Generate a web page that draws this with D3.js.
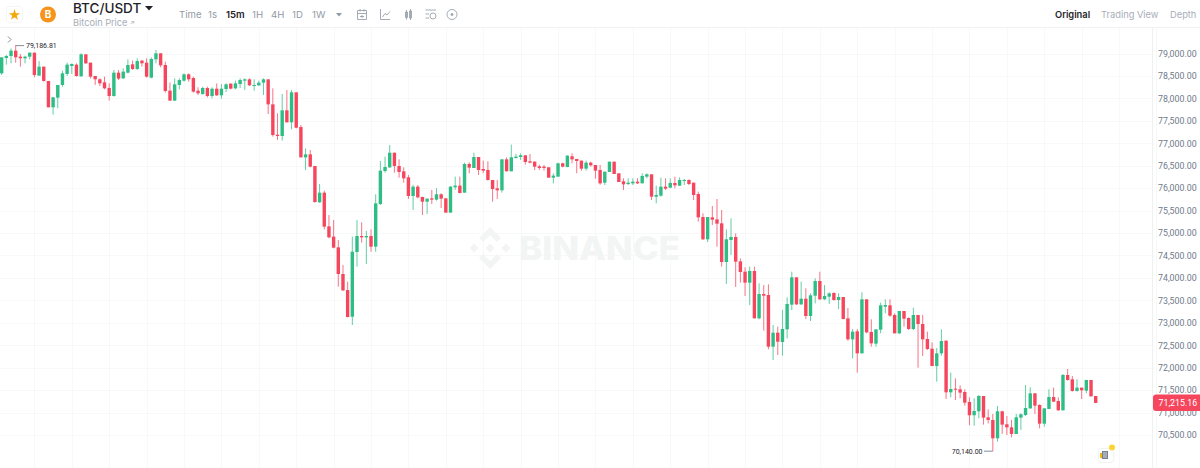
<!DOCTYPE html>
<html lang="en">
    <head>
        <meta charset="utf-8">
        <title>BTC/USDT 15m</title>
        <script type="text/javascript" src="https://cdn.jsdelivr.net/npm/d3@7"></script>
        <style type="text/css">
            html, body { margin: 0; padding: 0; background: #fff; overflow: hidden; }
            text { font-family: Inter, "Noto Sans", sans-serif; }
        </style>
    </head>
    <body>
        <script type="text/javascript">

            //Candle values, left to right
            var opens = [
                78558,78900,78945,79064,78930,78893,78930,79019,78507,78707,
                78388,77801,78016,78299,78544,78722,78752,78492,78982,78796,
                78499,78425,78358,78232,78053,78573,78447,78573,78759,78655,
                78841,78796,78462,78870,79004,78744,78172,77950,78299,78395,
                78536,78454,78172,78097,78231,78053,78216,78068,78209,78328,
                78224,78320,78395,78424,78283,78291,78350,78424,77867,77191,
                77162,77734,77466,78135,77362,76686,76753,76493,75684,75899,
                75149,74919,74681,74087,73730,73136,74577,74934,74904,74934,
                74696,75646,76382,76463,76790,76493,76375,76241,75825,76033,
                75803,75699,75773,75744,75863,75773,75454,76019,76056,75900,
                76538,76449,76694,76427,76405,76182,75996,75952,76642,76375,
                76672,76694,76732,76598,76590,76486,76479,76464,76234,76256,
                76553,76472,76709,76650,76613,76434,76568,76516,76404,76122,
                76360,76590,76330,76152,76092,76107,76144,76107,76256,76308,
                75810,75833,76033,76011,76115,76055,76159,76182,76122,75870,
                75357,74860,75350,75305,75216,74355,74845,74912,74369,74139,
                73894,74154,73099,73642,73619,72468,72780,72572,72854,73404,
                74013,73411,73537,73151,73604,73931,73523,73582,73664,73508,
                73575,73099,72631,72810,72319,73523,72795,72535,72847,73359,
                73389,73174,72765,73263,73107,72862,73174,72973,72639,72423,
                72037,72319,72602,71451,71533,71518,71458,71236,70939,71028,
                71369,70894,70835,70426,71028,70738,70671,70523,70887,70946,
                71094,71429,71169,70753,71080,71347,71258,71050,71837,71741,
                71481,71555,71488,71726,71369
            ];
            var highs = [
                78915,78967,79115,79186.81,78989,78952,79019,79019,78833,78707,
                78388,78024,78299,78618,78796,78781,78781,79004,78982,78796,
                78499,78447,78484,78336,78633,78633,78670,78870,78841,78893,
                78856,78893,78915,79078,79004,78818,78351,78447,78447,78558,
                78558,78484,78247,78261,78261,78246,78335,78320,78335,78335,
                78395,78447,78447,78447,78424,78395,78447,78424,78224,77667,
                78097,78187,78187,78135,77407,76887,76850,76493,76092,75944,
                75401,75290,74844,74287,73916,74919,75290,75238,75045,75082,
                75862,76605,76701,76961,76790,76642,76464,76293,76071,76071,
                75811,75773,75959,75996,75885,75773,76048,76256,76256,76568,
                76576,76791,76694,76613,76598,76182,76182,76642,76687,76969,
                76761,76776,76732,76761,76598,76524,76516,76464,76331,76568,
                76568,76732,76776,76650,76613,76613,76590,76516,76516,76367,
                76590,76590,76330,76219,76219,76219,76219,76330,76330,76308,
                76055,76234,76219,76219,76256,76241,76204,76196,76122,75922,
                75439,75357,75602,75758,75513,75082,75327,74993,74436,74236,
                74251,74251,73879,73842,73857,72951,72914,73285,73567,74139,
                74013,73916,73768,73656,73991,74139,73842,73679,73679,73656,
                73575,73329,72862,72862,73679,73523,73077,72854,73448,73523,
                73523,73211,73263,73263,73122,73337,73174,73174,72802,72564,
                72438,72854,72602,71889,71763,71607,71518,71340,71317,71392,
                71369,71072,70968,71146,71043,70924,70835,70968,70983,71614,
                71562,71429,71184,71094,71518,71555,71340,71859,71971,71815,
                71741,71555,71726,71726,71369
            ];
            var lows = [
                78521,78752,78781,78796,78707,78781,78870,78469,78507,78373,
                77801,77638,77779,78261,78499,78544,78484,78484,78766,78447,
                78299,78276,78202,77950,78039,78410,78432,78558,78633,78633,
                78707,78462,78447,78781,78692,78128,77942,77942,78202,78373,
                78373,78128,78076,78083,78023,78001,78053,77993,78142,78201,
                78201,78231,78187,78276,78172,78276,78075,77652,77147,77073,
                77058,77466,77310,77332,76686,76404,76463,75676,75676,75082,
                74882,74659,73805,73708,73121,72951,74250,74785,74310,74584,
                74584,75624,76345,76449,76345,76233,76123,75759,75513,75773,
                75402,75424,75647,75721,75558,75454,75454,75959,75885,75900,
                76331,76449,76293,76331,76167,75699,75759,75900,76375,76375,
                76657,76628,76524,76553,76405,76405,76390,76226,76108,76256,
                76464,76464,76553,76331,76390,76390,76479,76212,76078,76070,
                76360,76315,76137,75959,76070,76070,76092,76107,76219,75736,
                75662,75810,75959,75996,75996,76048,76070,76070,75736,75253,
                74845,74800,75179,74696,74251,73864,74510,73798,73894,73597,
                73396,73099,73077,72825,72409,72171,72282,72267,72654,73285,
                73396,73396,73084,73040,73433,73508,73508,73419,73493,73307,
                73077,72602,72208,71889,72319,72765,72468,72468,72765,73211,
                73136,72765,72750,72914,72839,72839,72000,72260,72394,72037,
                71688,72267,71302,71340,71280,71317,71154,70716,70708,70872,
                70731,70760,70140,70352,70523,70500,70448,70523,70612,70924,
                71080,70968,70649,70686,71080,71236,71043,71043,71711,71466,
                71466,71302,71429,71354,71208
            ];
            var closes = [
                78915,78945,79064,78915,78893,78930,79019,78521,78707,78388,
                77801,78024,78299,78558,78752,78766,78499,78982,78781,78484,
                78425,78336,78224,78053,78573,78440,78596,78744,78655,78833,
                78781,78484,78878,79004,78737,78165,77950,78313,78410,78536,
                78425,78150,78113,78231,78053,78216,78068,78216,78313,78216,
                78335,78409,78424,78291,78298,78350,78424,77867,77184,77162,
                77734,77466,78135,77347,76686,76753,76478,75691,75899,75142,
                74904,74674,74087,73723,73129,74584,74934,74904,74934,74696,
                75661,76389,76471,76790,76493,76360,76219,75825,76033,75796,
                75699,75766,75744,75863,75766,75454,76033,76056,75892,76538,
                76457,76694,76405,76390,76182,75981,75952,76642,76375,76687,
                76702,76732,76583,76568,76479,76449,76449,76234,76279,76553,
                76479,76724,76642,76605,76434,76568,76509,76390,76107,76367,
                76590,76315,76137,76085,76122,76144,76107,76271,76308,75810,
                75847,76033,75988,76115,76063,76182,76182,76092,75847,75350,
                74860,75357,75298,75209,74355,74860,74912,74362,74132,73894,
                74154,73099,73642,73604,72468,72780,72579,72862,73419,74013,
                73411,73537,73151,73612,73931,73523,73597,73656,73508,73575,
                73084,72631,72802,72319,73523,72787,72542,72854,73389,73396,
                73159,72765,73263,73092,72862,73174,72973,72631,72416,72037,
                72319,72594,71451,71525,71510,71444,71221,70939,71035,71369,
                70887,70835,70426,71028,70731,70671,70523,70894,70961,71102,
                71429,71154,70753,71094,71347,71243,71050,71837,71726,71481,
                71555,71496,71726,71362,71215.16
            ];

            //Right axis labels
            var priceTicks = [70500,71000,71500,72000,72500,73000,73500,74000,74500,75000,75500,76000,76500,77000,77500,78000,78500,79000];
            var lastPrice = 71215.16;
            var highPrice = 79186.81;
            var lowPrice = 70140;
            var intervals = ["Time","1s","15m","1H","4H","1D","1W"];
            var views = ["Original","Trading View","Depth"];

            //Width and height
            var w = 1200;
            var h = 468;

            var xScale = d3.scaleLinear().domain([0, 234]).range([1.67, 1095.7]);
            var yScale = d3.scaleLinear().domain([70500, 79000]).range([435, 53.5]);
            var priceFormat = d3.format(",.2f");

            var up = "#2ebd85";
            var down = "#f6465d";
            var grid = "#f7f8f8";
            var muted = "#929aa5";
            var dark = "#1e2329";
            var bodyW = 3.4;
            var numberFont = "Roboto, sans-serif";

            var svg = d3.select("body")
                        .append("svg")
                        .attr("width", w)
                        .attr("height", h)
                        .style("display", "block");

            //Grid
            var gridLayer = svg.append("g");
            gridLayer.selectAll("line.h")
                .data(priceTicks)
                .enter()
                .append("line")
                .attr("class", "h")
                .attr("x1", 0)
                .attr("x2", 1153)
                .attr("y1", function(d) { return Math.round(yScale(d)) + 0.5; })
                .attr("y2", function(d) { return Math.round(yScale(d)) + 0.5; })
                .style("stroke", grid);

            //one vertical line every 8 candles, starting on candle 7
            var gridCandles = d3.range(7, 250, 8);
            gridLayer.selectAll("line.v")
                .data(gridCandles)
                .enter()
                .append("line")
                .attr("class", "v")
                .attr("x1", function(d) { return Math.round(xScale(d)) + 0.5; })
                .attr("x2", function(d) { return Math.round(xScale(d)) + 0.5; })
                .attr("y1", 28)
                .attr("y2", h)
                .style("stroke", grid);

            //Watermark
            var mark = svg.append("g").attr("fill", "#f3f4f4");
            var logo = mark.append("g").attr("transform", "translate(490,248)");
            logo.append("path").attr("d", "M0 -21L11 -10L7 -6L0 -13L-7 -6L-11 -10Z");
            logo.append("path").attr("d", "M0 21L11 10L7 6L0 13L-7 6L-11 10Z");
            logo.append("path").attr("d", "M0 -4.5L4.5 0L0 4.5L-4.5 0Z");
            logo.append("path").attr("d", "M-16 -4.5L-11.5 0L-16 4.5L-20.5 0Z");
            logo.append("path").attr("d", "M16 -4.5L20.5 0L16 4.5L11.5 0Z");
            mark.append("text")
                .text("BINANCE")
                .attr("x", 519)
                .attr("y", 260)
                .attr("textLength", 161)
                .attr("lengthAdjust", "spacingAndGlyphs")
                .attr("font-size", "32px")
                .attr("font-weight", 800);

            //Candles
            var candles = svg.selectAll("g.candle")
                .data(opens)
                .enter()
                .append("g")
                .attr("class", "candle");

            candles.append("line")
                .attr("x1", function(d, i) { return xScale(i); })
                .attr("x2", function(d, i) { return xScale(i); })
                .attr("y1", function(d, i) { return yScale(highs[i]); })
                .attr("y2", function(d, i) { return yScale(lows[i]); })
                .style("stroke", function(d, i) { return closes[i] >= d ? up : down; })
                .style("stroke-width", 1)
                .style("stroke-opacity", 0.75);

            candles.append("rect")
                .attr("x", function(d, i) { return xScale(i) - bodyW / 2; })
                .attr("width", bodyW)
                .attr("y", function(d, i) { return yScale(Math.max(d, closes[i])); })
                .attr("height", function(d, i) { return Math.max(1, Math.abs(yScale(d) - yScale(closes[i]))); })
                .attr("fill", function(d, i) { return closes[i] >= d ? up : down; });

            //Price axis
            svg.append("line")
                .attr("x1", 1152.5).attr("x2", 1152.5)
                .attr("y1", 28).attr("y2", h)
                .style("stroke", "#eef0f2");

            var axis = d3.axisRight(yScale)
                .tickValues(priceTicks)
                .tickSize(0)
                .tickPadding(0)
                .tickFormat(priceFormat);

            var axisG = svg.append("g")
                .attr("transform", "translate(1158,0)")
                .call(axis);
            axisG.select(".domain").remove();
            axisG.selectAll("text")
                .attr("fill", "#707a8a")
                .style("font-size", "8.8px")
                .style("font-family", numberFont);

            //Last price tag
            svg.append("rect")
                .attr("x", 1153)
                .attr("y", yScale(lastPrice) - 8.5)
                .attr("width", 50)
                .attr("height", 16.5)
                .attr("rx", 3)
                .attr("fill", down);
            svg.append("text")
                .text(priceFormat(lastPrice))
                .attr("x", 1158.5)
                .attr("y", yScale(lastPrice) + 3)
                .attr("fill", "#fff")
                .attr("font-size", "8.8px")
                .style("font-family", numberFont);

            //High and low markers
            svg.append("line")
                .attr("x1", xScale(3)).attr("x2", 24)
                .attr("y1", yScale(highPrice) + 0.5).attr("y2", yScale(highPrice) + 0.5)
                .style("stroke", "#848e9c");
            svg.append("text")
                .text(priceFormat(highPrice))
                .attr("x", 26)
                .attr("y", yScale(highPrice) + 3)
                .attr("fill", dark)
                .attr("font-size", "7px")
                .style("font-family", numberFont);

            svg.append("line")
                .attr("x1", 984).attr("x2", xScale(212))
                .attr("y1", yScale(lowPrice)).attr("y2", yScale(lowPrice))
                .style("stroke", "#848e9c");
            svg.append("text")
                .text(priceFormat(lowPrice))
                .attr("x", 982.5)
                .attr("y", yScale(lowPrice) + 3)
                .attr("text-anchor", "end")
                .attr("fill", dark)
                .attr("font-size", "7px")
                .style("font-family", numberFont);

            //Small collapse arrow, top left of the plot
            svg.append("path")
                .attr("d", "M8 36.5L11 39.5L8 42.5")
                .attr("fill", "none")
                .style("stroke", "#848e9c");

            //Header
            svg.append("line")
                .attr("x1", 0).attr("x2", w)
                .attr("y1", 27.5).attr("y2", 27.5)
                .style("stroke", "#f0f1f2");

            svg.append("rect")
                .attr("x", 6.5).attr("y", 6.5)
                .attr("width", 16).attr("height", 16)
                .attr("rx", 3)
                .attr("fill", "#fff")
                .style("stroke", "#f5f5f5");
            svg.append("path")
                .attr("d", d3.symbol().type(d3.symbolStar).size(40))
                .attr("transform", "translate(14.5,15)")
                .attr("fill", "#f0a80b");

            svg.append("circle")
                .attr("cx", 48).attr("cy", 14.5).attr("r", 8)
                .attr("fill", "#f7931a");
            svg.append("text")
                .text("B")
                .attr("x", 48)
                .attr("y", 18)
                .attr("text-anchor", "middle")
                .attr("fill", "#fff")
                .attr("font-size", "10px")
                .attr("font-weight", 700);

            svg.append("text")
                .text("BTC/USDT")
                .attr("x", 73)
                .attr("y", 13)
                .attr("fill", dark)
                .attr("font-size", "13.5px")
                .attr("font-weight", 500);
            svg.append("path")
                .attr("d", "M145 6H153L149 10.5Z")
                .attr("fill", dark);
            svg.append("text")
                .text("Bitcoin Price")
                .attr("x", 73)
                .attr("y", 25.5)
                .attr("fill", "#a8aeb8")
                .attr("font-size", "9.2px");
            svg.append("text")
                .text("↗")
                .attr("x", 130)
                .attr("y", 24.5)
                .attr("fill", "#a8aeb8")
                .attr("font-size", "6px");

            var intervalX = [179, 208, 226, 252, 271, 292, 312];
            svg.selectAll("text.interval")
                .data(intervals)
                .enter()
                .append("text")
                .attr("class", "interval")
                .text(function(d) { return d; })
                .attr("x", function(d, i) { return intervalX[i]; })
                .attr("y", 18)
                .attr("font-size", "9.6px")
                .attr("font-weight", function(d) { return d == "15m" ? 600 : 400; })
                .attr("fill", function(d) { return d == "15m" ? dark : muted; });
            svg.append("path")
                .attr("d", "M336 13H342L339 16.5Z")
                .attr("fill", muted);

            //Toolbar icons
            var icons = svg.append("g")
                .attr("fill", "none")
                .style("stroke", "#9aa1ac")
                .style("stroke-width", 0.9);
            icons.append("path").attr("d", "M357.5 10.5H366.5V19.5H357.5ZM357.5 13.5H366.5M360 9V11.5M364 9V11.5M360 16.5H364M362 15V18");
            icons.append("path").attr("d", "M380.5 9V19.5H390M382.5 17L385 13.5L387 15L390 11.5");
            icons.append("path").attr("d", "M405.5 12H407.5V17.5H405.5ZM409.5 11H411.5V18H409.5ZM406.5 10V19.5M410.5 9V20");
            icons.append("path").attr("d", "M425.5 10H436M425.5 14H429M425.5 18H429");
            icons.append("circle").attr("cx", 433).attr("cy", 16).attr("r", 3);
            icons.append("circle").attr("cx", 452).attr("cy", 14.5).attr("r", 5);
            icons.append("circle").attr("cx", 452).attr("cy", 14.5).attr("r", 1).attr("fill", "#9aa1ac");

            var viewX = [1055, 1101, 1170];
            svg.selectAll("text.view")
                .data(views)
                .enter()
                .append("text")
                .attr("class", "view")
                .text(function(d) { return d; })
                .attr("x", function(d, i) { return viewX[i]; })
                .attr("y", 18)
                .attr("font-size", "9.3px")
                .attr("font-weight", function(d) { return d == "Original" ? 600 : 400; })
                .attr("fill", function(d) { return d == "Original" ? dark : "#a8aeb8"; });

            //Little notes badge at the bottom right
            svg.append("rect")
                .attr("x", 1098.5).attr("y", 448.5)
                .attr("width", 15).attr("height", 14)
                .attr("rx", 3)
                .attr("fill", "#fff")
                .style("stroke", "#f0f1f2");
            svg.append("rect")
                .attr("x", 1102).attr("y", 451)
                .attr("width", 6).attr("height", 8)
                .attr("fill", "#76808f");
            svg.append("path")
                .attr("d", "M1103 453H1107M1103 455H1107M1103 457H1107")
                .style("stroke", "#fff")
                .style("stroke-width", 0.7);
            svg.append("rect")
                .attr("x", 1100).attr("y", 453)
                .attr("width", 2).attr("height", 5)
                .attr("fill", "#f0b90b");
            svg.append("circle")
                .attr("cx", 1112).attr("cy", 447.5).attr("r", 3)
                .attr("fill", "#fcd535");

        </script>
    </body>
</html>
